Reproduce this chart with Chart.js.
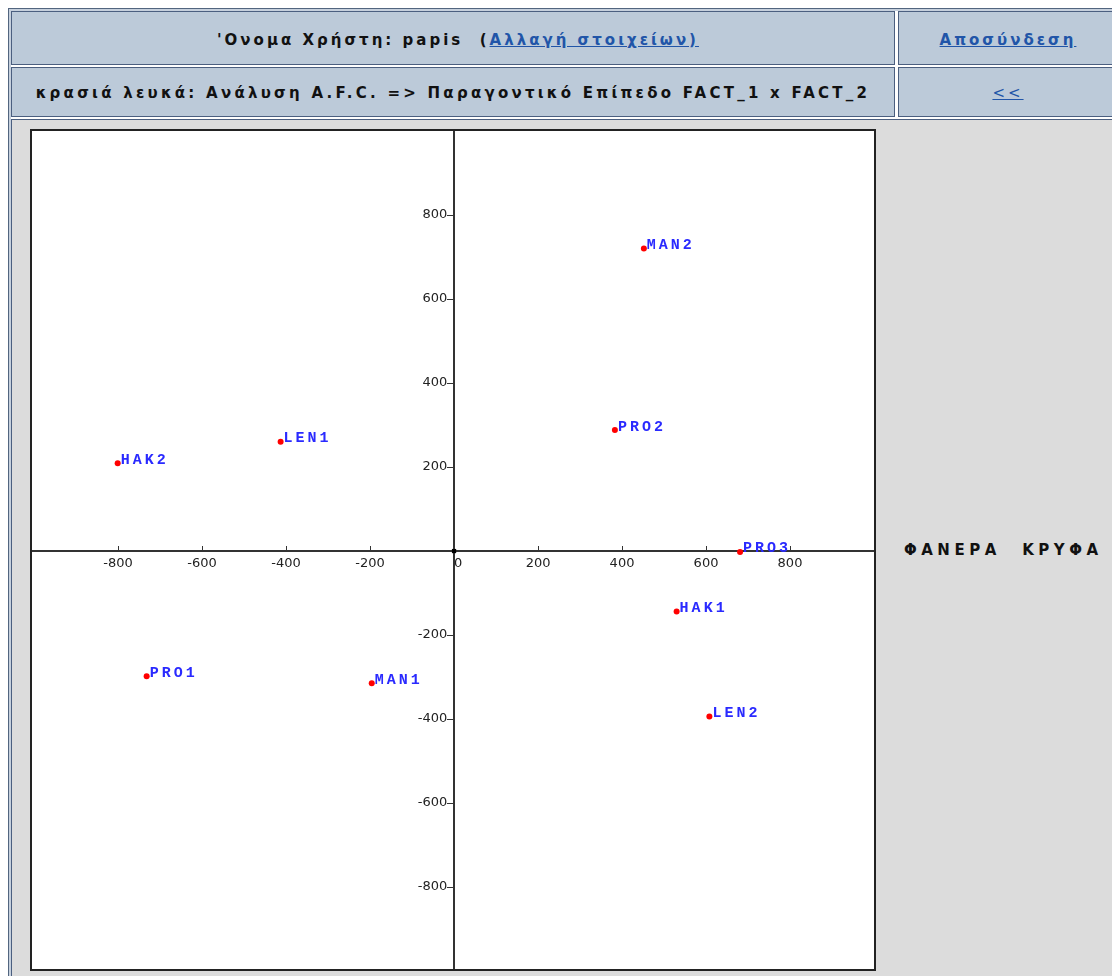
<!DOCTYPE html>
<html>
<head>
<meta charset="utf-8">
<script src="https://cdn.jsdelivr.net/npm/chart.js@4.4.1/dist/chart.umd.min.js"></script>
<style>
body{margin:0;background:#fff;width:1112px;height:976px;overflow:hidden;position:relative;font-family:"DejaVu Sans",Verdana,sans-serif;}
.frame{position:absolute;left:8px;top:8px;width:1200px;height:1100px;box-sizing:border-box;border:1px solid #52657f;background:#c6d0dd;}
.gap{position:absolute;background:#fff;}
.cell{position:absolute;box-sizing:border-box;border:1px solid #4b5f80;background:#bccad9;display:flex;align-items:center;justify-content:center;font-weight:bold;font-size:15px;letter-spacing:3px;color:#111;white-space:nowrap;}
.cell a{color:#2155a8;text-decoration:underline;}
.body{background:#dcdcdc;display:block;}
#box{position:absolute;left:30px;top:129px;width:846px;height:842px;box-sizing:border-box;border:2px solid #222;background:#fff;}
#side{position:absolute;left:904px;top:541px;font-weight:bold;font-size:15px;letter-spacing:4.5px;word-spacing:1px;color:#111;white-space:nowrap;}
</style>
</head>
<body>
<div class="frame"></div>
<div class="gap" style="left:11px;top:65px;width:1200px;height:2px"></div>
<div class="gap" style="left:11px;top:117px;width:1200px;height:2px"></div>
<div class="gap" style="left:895px;top:11px;width:3px;height:108px"></div>

<div class="cell" style="left:11px;top:11px;width:884px;height:54px;padding-top:3px;padding-left:10px">'Ονομα Χρήστη: papis&nbsp;&nbsp;(<a>Αλλαγή στοιχείων)</a></div>
<div class="cell" style="left:898px;top:11px;width:220px;height:54px;padding-top:3px"><a>Αποσύνδεση</a></div>
<div class="cell" style="left:11px;top:67px;width:884px;height:50px;padding-top:2px;letter-spacing:3.25px">κρασιά λευκά: Ανάλυση A.F.C. =&gt; Παραγοντικό Επίπεδο FACT_1 x FACT_2</div>
<div class="cell" style="left:898px;top:67px;width:220px;height:50px;padding-top:2px;font-weight:normal"><a>&lt;&lt;</a></div>
<div class="cell body" style="left:11px;top:119px;width:1200px;height:900px"></div>

<div id="box"><canvas id="afc" width="842" height="838"></canvas></div>
<div id="side">ΦΑΝΕΡΑ&nbsp;&nbsp;ΚΡΥΦΑ</div>

<script>
// --- DONNEES ---
const pointNames = ['HAK1', 'HAK2', 'LEN1', 'LEN2', 'MAN1', 'MAN2', 'PRO1', 'PRO2', 'PRO3'];
const fact1 = [530, -801, -413, 608, -196, 452, -732, 383, 681];
const fact2 = [-144, 209, 260, -394, -315, 720, -298, 288, -2];
const xTickValues = [-800, -600, -400, -200, 0, 200, 400, 600, 800];
const yTickValues = [-800, -600, -400, -200, 200, 400, 600, 800];

// etiquettes des points
const labelPlugin = {
    id: 'pointLabels',
    afterDatasetsDraw(chart) {
        const ctx = chart.ctx;
        const meta = chart.getDatasetMeta(0);
        ctx.save();
        ctx.font = 'bold 15px "Liberation Mono", monospace';
        ctx.letterSpacing = '3px';
        ctx.fillStyle = '#2a2aff';
        ctx.textBaseline = 'alphabetic';
        meta.data.forEach((el, i) => {
            ctx.fillText(pointNames[i], el.x + 3, el.y + 0.5);
        });
        ctx.restore();
    }
};

// pas de marge autour des axes centrés
const noPadding = s => {
    s.paddingTop = 0;
    s.paddingBottom = 0;
    s.paddingLeft = 0;
    s.paddingRight = 0;
};

const tickFont = { family: 'DejaVu Sans', size: 13 };

const ctx = document.getElementById('afc').getContext('2d');
new Chart(ctx, {
    type: 'scatter',
    data: {
        datasets: [
            {
                data: fact1.map((x, i) => ({ x: x, y: fact2[i] })),
                pointStyle: 'circle',
                pointRadius: 3,
                backgroundColor: '#ff0000',
                borderWidth: 0
            },
            {
                data: [{ x: 0, y: 0 }],
                pointStyle: 'rect',
                pointRadius: 3,
                backgroundColor: '#000',
                borderWidth: 0
            }
        ]
    },
    options: {
        responsive: false,
        animation: false,
        events: [],
        layout: { padding: 0, autoPadding: false },
        plugins: { legend: { display: false }, tooltip: { enabled: false } },
        scales: {
            x: {
                type: 'linear',
                min: -1005,
                max: 1000,
                position: { y: 0 },
                afterBuildTicks: s => { s.ticks = xTickValues.map(v => ({ value: v })); },
                afterFit: noPadding,
                grid: { drawOnChartArea: false, drawTicks: true, tickLength: -6, color: '#333' },
                border: { display: true, color: '#333', width: 2 },
                ticks: {
                    padding: 11,
                    color: '#222',
                    font: tickFont,
                    autoSkip: false,
                    maxRotation: 0,
                    callback: v => v === 0 ? '  0' : String(v)
                }
            },
            y: {
                type: 'linear',
                min: -995,
                max: 1000,
                position: { x: 0 },
                afterBuildTicks: s => { s.ticks = yTickValues.map(v => ({ value: v })); },
                afterFit: noPadding,
                grid: { drawOnChartArea: false, drawTicks: true, tickLength: 6, color: '#333' },
                border: { display: true, color: '#333', width: 2 },
                ticks: {
                    padding: 0,
                    color: '#222',
                    font: tickFont,
                    autoSkip: false,
                    callback: v => String(v) + ' \u2009'
                }
            }
        }
    },
    plugins: [labelPlugin]
});
</script>
</body>
</html>
